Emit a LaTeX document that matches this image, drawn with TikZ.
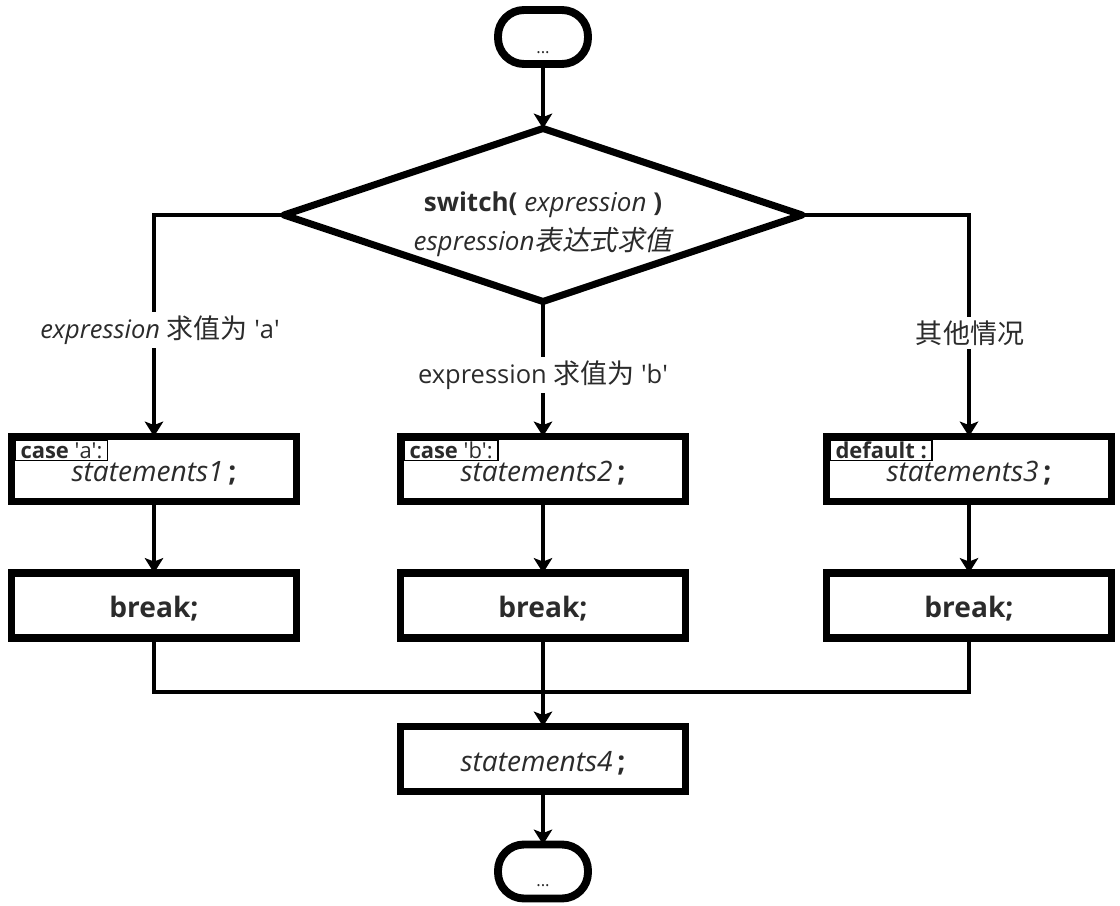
\documentclass[tikz,border=0pt]{standalone}
\usepackage{fontspec}
\setmainfont{Open Sans}
\newfontfamily\cjk{Noto Sans CJK SC}[Scale=1.06]
\newfontfamily\cjkit{Noto Sans CJK SC}[Scale=1.06,FakeSlant=0.2]
\newcommand{\sq}{\textquotesingle}
\usetikzlibrary{shapes.geometric,arrows.meta,calc}
\definecolor{txt}{HTML}{2B2B2B}
\begin{document}
\begin{tikzpicture}[x=0.02cm,y=-0.02cm,
  box/.style={draw, line width=4pt, outer sep=0pt, minimum width=5.72cm, minimum height=1.3cm, inner sep=0pt, text=txt, font=\fontsize{16}{19}\selectfont},
  term/.style={draw, line width=4.5pt, outer sep=0pt, rounded corners=0.52cm, minimum width=1.8cm, minimum height=1.08cm},
  dots/.style={font=\fontsize{9.5}{10}\selectfont, text=txt},
  tabbox/.style={draw, line width=0.8pt, anchor=north west, inner xsep=3pt, inner ysep=1.1pt, text height=9pt, text depth=0pt, text=txt, font=\fontsize{12.5}{14}\selectfont},
  lbl/.style={fill=white, inner sep=2pt, text=txt, font=\fontsize{14.5}{17}\selectfont},
  ln/.style={line width=1.9pt},
  arr/.style={line width=1.9pt, -{Stealth[width=10.5pt,length=8.5pt,inset=2pt]}},
  dec/.style={draw, shape=diamond, aspect=3, line width=4pt, line join=round, outer sep=0pt, inner sep=0pt, minimum width=10.36cm, minimum height=3.46cm}
]
\useasboundingbox (0,0) rectangle (1120,906);

% terminators
\node[term] (t1) at (543,37) {};
\node[dots] (t1d) at (543,53) {...};
\node[term] (t2) at (543,871.5) {};
\node[dots] (t2d) at (543,886) {...};

% decision
\node[dec, label={[name=dtext, align=center, text=txt, font=\fontsize{14.8}{22.3}\selectfont, yshift=-0.19cm]center:{\bfseries switch(} \textit{expression} {\bfseries)}\\\textit{espression}{\cjkit 表达式求值}}] (d) at (543,215) {};

% case boxes
\node[box] (c1) at (154,469) {\raisebox{0pt}[0.56cm][0.05cm]{\textit{statements1}\,\textbf{;}}};
\node[box] (c2) at (543,469) {\raisebox{0pt}[0.56cm][0.05cm]{\textit{statements2}\,\textbf{;}}};
\node[box] (c3) at (969,469) {\raisebox{0pt}[0.56cm][0.05cm]{\textit{statements3}\,\textbf{;}}};
\node[tabbox] (tab1) at ([xshift=2pt,yshift=-2pt]c1.north west) {\textbf{case} \sq a\sq:};
\node[tabbox] (tab2) at ([xshift=2pt,yshift=-2pt]c2.north west) {\textbf{case} \sq b\sq:};
\node[tabbox] (tab3) at ([xshift=2pt,yshift=-2pt]c3.north west) {\textbf{default :}};

% break boxes
\node[box, font=\fontsize{16}{19}\selectfont\bfseries] (b1) at (154,605.5) {\raisebox{0pt}[0.52cm][0.04cm]{break;}};
\node[box, font=\fontsize{16}{19}\selectfont\bfseries] (b2) at (543,605.5) {\raisebox{0pt}[0.52cm][0.04cm]{break;}};
\node[box, font=\fontsize{16}{19}\selectfont\bfseries] (b3) at (969,605.5) {\raisebox{0pt}[0.52cm][0.04cm]{break;}};

% final statement
\node[box] (s4) at (543,759) {\raisebox{0pt}[0.54cm][0.05cm]{\textit{statements4}\,\textbf{;}}};

\coordinate (m) at (543,692);

% connectors
\draw[arr] (t1.south) -- (d.north);
\draw[arr] (d.west) -| (c1.north);
\draw[arr] (d.south) -- (c2.north);
\draw[arr] (d.east) -| (c3.north);
\draw[arr] (c1.south) -- (b1.north);
\draw[arr] (c2.south) -- (b2.north);
\draw[arr] (c3.south) -- (b3.north);
\draw[ln] (b1.south) |- (m);
\draw[ln] (b3.south) |- (m);
\draw[arr] (b2.south) -- (s4.north);
\draw[arr] (s4.south) -- (t2.north);

% branch labels
\node[lbl] (la) at (160,330) {\textit{expression} {\cjk 求值为} \sq a\sq};
\node[lbl] (lb) at (543,375) {expression {\cjk 求值为} \sq b\sq};
\node[lbl] (lc) at (970,333) {{\cjk 其他情况}};
\end{tikzpicture}
\end{document}
